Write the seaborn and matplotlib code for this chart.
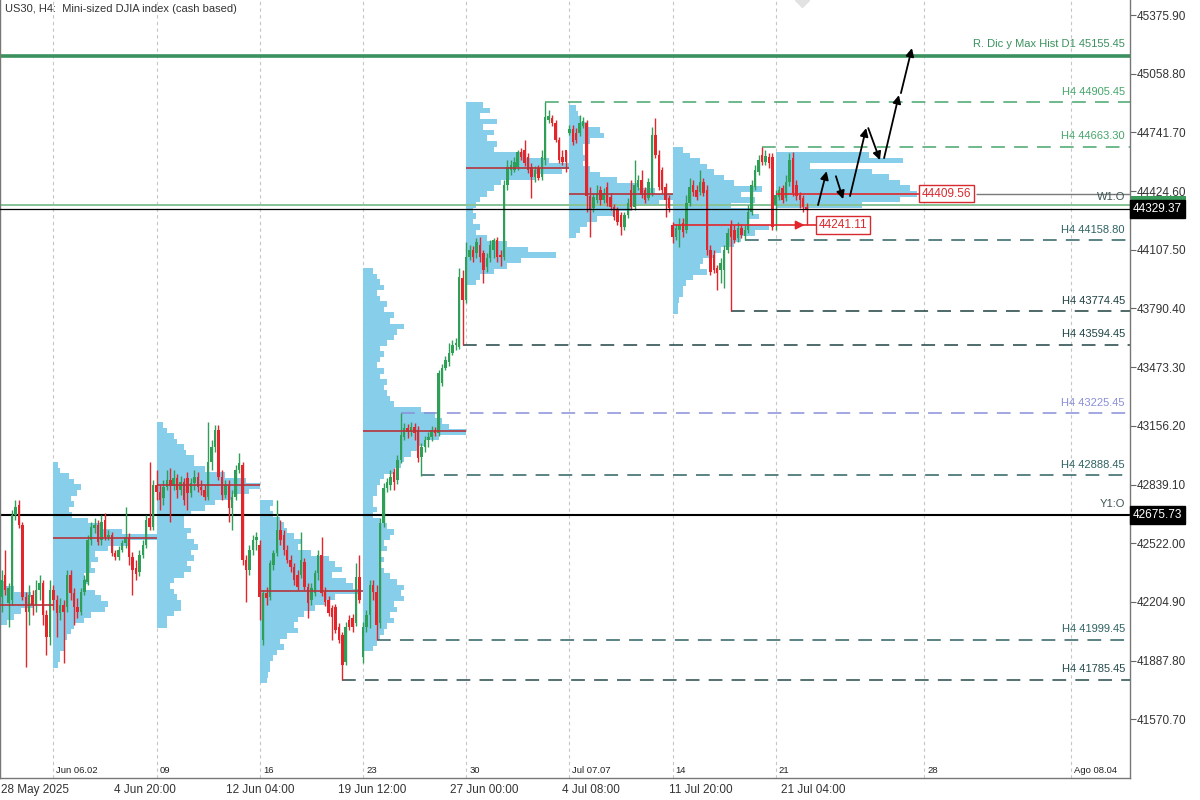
import matplotlib
matplotlib.use("Agg")
import matplotlib.pyplot as plt
import matplotlib.transforms as mtransforms
from matplotlib.patches import Rectangle
import numpy as np
import seaborn as sns

# ---- US30 H4 candles, one value per bar (28 May 2025 -> 22 Jul 2025) ----
opens = [
    42232, 42351, 42200, 42216, 42675, 42729, 42621, 42232, 42151, 42243, 42189, 42270, 42308, 42135, 42016,
    42270, 42216, 42146, 42189, 42178, 42351, 42254, 42178, 42151, 42259, 42313, 42540, 42605, 42621, 42540,
    42648, 42556, 42567, 42470, 42448, 42486, 42524, 42556, 42448, 42389, 42367, 42459, 42513, 42659, 42610,
    42837, 42799, 42767, 42826, 42864, 42832, 42875, 42810, 42853, 42875, 42794, 42848, 42880, 42826, 42810,
    42772, 42961, 43042, 43134, 42880, 42783, 42837, 42713, 42772, 42918, 42945, 42432, 42378, 42486, 42540,
    42513, 42000, 42254, 42232, 42405, 42470, 42594, 42567, 42486, 42432, 42394, 42351, 42351, 42421, 42286,
    42216, 42254, 42362, 42459, 42259, 42216, 42173, 42178, 42070, 42027, 41881, 42108, 42119, 42092, 42340,
    41908, 42070, 42135, 42297, 42259, 42092, 42632, 42821, 42837, 42907, 42864, 42972, 43096, 43145, 43123,
    43150, 43134, 42988, 43042, 43080, 43096, 43134, 43118, 43388, 43469, 43501, 43550, 43593, 43582, 43955,
    43836, 44068, 44106, 44090, 44133, 44090, 44014, 44063, 44106, 44160, 44079, 44068, 44457, 44538, 44538,
    44554, 44635, 44646, 44608, 44554, 44500, 44549, 44500, 44592, 44808, 44819, 44792, 44700, 44608, 44646,
    44738, 44759, 44738, 44738, 44776, 44792, 44400, 44333, 44376, 44430, 44376, 44446, 44392, 44338, 44322,
    44295, 44230, 44295, 44430, 44338, 44446, 44484, 44430, 44387, 44414, 44727, 44619, 44538, 44446, 44387,
    44241, 44176, 44214, 44252, 44214, 44360, 44457, 44430, 44419, 44473, 44430, 44106, 44079, 44009, 43998,
    43998, 44106, 44241, 44214, 44171, 44225, 44182, 44214, 44311, 44446, 44527, 44619, 44581, 44608, 44608,
    44350, 44392, 44441, 44387, 44473, 44603, 44457, 44403, 44387, 44338,
]
highs = [
    42378, 42486, 42308, 42702, 42756, 42756, 42637, 42259, 42297, 42270, 42324, 42351, 42324, 42162, 42324,
    42297, 42243, 42227, 42216, 42378, 42378, 42281, 42227, 42281, 42351, 42567, 42637, 42659, 42648, 42675,
    42686, 42594, 42583, 42486, 42508, 42540, 42718, 42578, 42475, 42432, 42486, 42540, 42675, 42961, 42864,
    42918, 42837, 42864, 42918, 42929, 42918, 42896, 42886, 42875, 42907, 42875, 42918, 42907, 42864, 42837,
    43177, 43080, 43161, 43161, 42918, 42864, 42864, 42810, 42945, 43010, 42961, 42459, 42513, 42567, 42583,
    42540, 42270, 42286, 42432, 42486, 42756, 42648, 42594, 42513, 42459, 42416, 42378, 42583, 42443, 42308,
    42308, 42378, 42486, 42556, 42286, 42238, 42189, 42194, 42092, 42043, 42097, 42135, 42140, 42416, 42459,
    42097, 42162, 42324, 42324, 42297, 42659, 42848, 42875, 42918, 42929, 42999, 43226, 43172, 43166, 43177,
    43172, 43156, 43064, 43102, 43123, 43156, 43150, 43458, 43490, 43534, 43604, 43620, 43631, 44009, 43998,
    44149, 44133, 44128, 44171, 44176, 44106, 44090, 44160, 44171, 44176, 44106, 44484, 44592, 44592, 44608,
    44646, 44657, 44700, 44630, 44576, 44560, 44565, 44646, 44905, 44862, 44835, 44808, 44716, 44646, 44640,
    44781, 44781, 44765, 44835, 44824, 44808, 44446, 44414, 44457, 44452, 44441, 44473, 44414, 44354, 44338,
    44311, 44311, 44387, 44484, 44592, 44511, 44538, 44446, 44495, 44770, 44819, 44646, 44554, 44468, 44403,
    44257, 44246, 44279, 44279, 44403, 44495, 44484, 44457, 44538, 44495, 44457, 44133, 44106, 44025, 44063,
    44133, 44225, 44268, 44241, 44257, 44246, 44241, 44349, 44484, 44565, 44619, 44662, 44646, 44630, 44630,
    44430, 44452, 44457, 44511, 44630, 44635, 44484, 44419, 44403, 44360,
]
lows = [
    42151, 42243, 42070, 42189, 42648, 42605, 42216, 41854, 42081, 42135, 42151, 42216, 42081, 41919, 41973,
    42162, 42016, 42108, 41876, 42151, 42216, 42081, 42119, 42135, 42243, 42297, 42513, 42578, 42513, 42513,
    42540, 42540, 42454, 42432, 42432, 42475, 42497, 42405, 42243, 42324, 42346, 42443, 42497, 42594, 42594,
    42756, 42702, 42729, 42810, 42637, 42810, 42767, 42783, 42729, 42702, 42772, 42810, 42799, 42783, 42756,
    42756, 42918, 43015, 42864, 42756, 42767, 42637, 42594, 42756, 42902, 42405, 42205, 42351, 42459, 42486,
    42108, 41973, 42189, 42216, 42378, 42454, 42513, 42459, 42416, 42367, 42297, 42270, 42335, 42270, 42119,
    42189, 42238, 42324, 42238, 42184, 42130, 42000, 42038, 41984, 41785, 41865, 42054, 42043, 42076, 42200,
    41876, 42043, 42065, 42216, 42000, 42065, 42610, 42799, 42810, 42810, 42842, 42956, 43080, 43091, 43102,
    43080, 42961, 42886, 43015, 43042, 43075, 43102, 43102, 43372, 43458, 43480, 43539, 43566, 43571, 43593,
    43820, 44052, 44041, 44063, 44041, 43928, 43987, 44041, 44063, 44041, 44020, 44052, 44430, 44511, 44527,
    44538, 44592, 44560, 44522, 44387, 44473, 44484, 44484, 44565, 44792, 44776, 44689, 44576, 44565, 44527,
    44727, 44673, 44684, 44722, 44765, 44311, 44176, 44311, 44360, 44349, 44360, 44344, 44322, 44268, 44241,
    44187, 44214, 44279, 44322, 44322, 44430, 44387, 44360, 44376, 44398, 44603, 44430, 44414, 44284, 44311,
    44144, 44160, 44122, 44176, 44198, 44344, 44398, 44376, 44403, 44398, 44079, 43971, 43982, 43890, 43928,
    43901, 44090, 43777, 44144, 44149, 44171, 44160, 44198, 44295, 44430, 44511, 44565, 44565, 44549, 44214,
    44214, 44376, 44360, 44371, 44452, 44398, 44376, 44333, 44311, 44322,
]
closes = [
    42324, 42270, 42281, 42675, 42718, 42621, 42232, 42151, 42243, 42189, 42270, 42308, 42135, 42016, 42270,
    42216, 42146, 42189, 42151, 42351, 42254, 42178, 42151, 42259, 42324, 42540, 42610, 42621, 42529, 42637,
    42556, 42567, 42470, 42448, 42486, 42524, 42556, 42448, 42378, 42356, 42459, 42513, 42648, 42610, 42837,
    42799, 42756, 42826, 42864, 42832, 42875, 42810, 42853, 42756, 42794, 42848, 42880, 42826, 42810, 42772,
    42961, 43042, 43134, 42880, 42783, 42837, 42713, 42772, 42918, 42956, 42432, 42378, 42486, 42540, 42556,
    42232, 42254, 42227, 42416, 42470, 42594, 42540, 42486, 42432, 42394, 42324, 42286, 42432, 42286, 42200,
    42281, 42362, 42459, 42254, 42205, 42146, 42124, 42054, 42000, 41865, 42070, 42070, 42070, 42340, 42216,
    42070, 42135, 42297, 42259, 42081, 42632, 42821, 42853, 42880, 42853, 42972, 43107, 43145, 43123, 43150,
    43118, 42983, 43042, 43080, 43096, 43134, 43118, 43442, 43469, 43512, 43550, 43593, 43604, 43960, 43836,
    44068, 44106, 44068, 44149, 44068, 43998, 44063, 44133, 44160, 44068, 44068, 44457, 44554, 44565, 44581,
    44635, 44608, 44576, 44538, 44500, 44538, 44495, 44608, 44824, 44830, 44792, 44700, 44592, 44581, 44581,
    44759, 44689, 44700, 44792, 44803, 44400, 44322, 44392, 44414, 44376, 44414, 44360, 44338, 44284, 44257,
    44230, 44295, 44360, 44338, 44457, 44484, 44403, 44376, 44473, 44727, 44619, 44446, 44430, 44376, 44333,
    44176, 44225, 44241, 44203, 44360, 44446, 44419, 44392, 44473, 44414, 44106, 43987, 43998, 43982, 44036,
    44106, 44198, 44176, 44160, 44225, 44187, 44214, 44311, 44457, 44538, 44592, 44581, 44614, 44576, 44230,
    44403, 44430, 44376, 44473, 44592, 44414, 44398, 44376, 44338, 44329.37,
]

# ---- weekly volume profiles (width in bars, one row = 30 points, listed top -> bottom) ----
vp_may26 = [1.5, 4, 9, 8, 10, 6, 4, 2]
vp_jun02 = [1.5, 2, 4.5, 6, 8, 7, 5, 6, 4.5, 5.5, 10, 14, 20, 30, 22, 16, 12, 13, 11, 12,
            9, 10, 9, 12, 14, 16, 15, 11, 9, 6, 5, 4, 3, 3, 2, 2, 1.5]
vp_jun09 = [2, 3, 5, 6, 8, 8.5, 11, 11, 14, 20, 26, 30, 27, 22, 17, 14, 10, 8, 8, 10,
            9, 11, 12, 10, 11, 9, 10, 8, 5, 4, 5, 6, 7, 7, 5, 3, 3]
vp_jun16 = [4, 3, 4, 6, 7, 8, 10, 12, 11, 15, 20, 22, 24, 21, 25, 27, 29.5, 22, 19, 16,
            13, 11, 10, 11, 8, 6, 7, 5, 4, 3, 3, 2.5, 2]
vp_jun23 = [3, 4, 5, 6, 4, 5, 7, 6, 9, 8, 12, 10, 9, 7, 5, 6, 5, 4, 6, 5,
            7, 6, 7, 8, 9, 17, 21, 23, 25, 30, 22, 18, 16, 14, 12, 11, 9, 6, 5, 4,
            4, 3, 3, 4, 3, 5, 7, 9, 8, 6, 7, 5, 6, 5, 6, 8, 10, 12, 11, 12,
            9, 10, 8, 9, 7, 6, 5, 4, 3]
vp_jun30 = [5, 7, 4, 9, 5, 8, 6, 9, 8, 17, 24, 30, 28, 20, 10, 8, 6, 4, 3, 2,
            3, 2, 4, 3, 6, 12, 18, 26, 16, 12, 8, 4, 3]
vp_jul07 = [2, 2.5, 3, 5, 9, 10, 6, 4, 4, 5, 4, 6, 9, 14, 20, 25, 30, 26, 18, 13, 8, 5, 3, 2]
vp_jul14 = [3, 5, 8, 10, 12, 15, 18, 26, 20, 24, 17, 23, 25, 22, 28, 24, 20, 18, 14, 12,
            9, 8, 10, 6, 4, 3, 3, 2, 1.5, 1.5]
vp_jul21 = [27, 37, 10, 28, 33, 36, 39, 41, 36, 25]
vp_widths = [vp_may26, vp_jun02, vp_jun09, vp_jun16, vp_jun23, vp_jun30, vp_jul07, vp_jul14, vp_jul21]
vp_starts = [-0.5, 15, 45, 75, 105, 135, 165, 195, 225]
vp_tops = [42320, 42960, 43177, 42756, 44009, 44905, 44889, 44662, 44635]
VP_ROW = 30

# point of control of each weekly profile
poc_prices = [42189, 42551, 42837, 42265, 43129, 44549, 44408]
poc_to = [15, 45, 75, 105, 135, 165, 195]
poc_last_week = 44241.11
poc_this_week = 44409.56

# horizontal levels
level_prices = [45155.45, 44905.45, 44663.30, 44158.80, 43774.45, 43594.45, 43225.45, 42888.45, 41999.45, 41785.45]
level_from = [-0.5, 158, 221, 216, 212, 134, 116, 122, 109, 99]
level_labels = ["R. Dic y Max Hist D1 45155.45"] + ["H4 %.2f" % p for p in level_prices[1:]]
level_colors = ["#3a915d", "#47a56b", "#47a56b", "#2f6262", "#1f4040", "#1f4444",
                "#8a8fd8", "#2f6262", "#2f6262", "#264a4a"]
year_open = 42675.73
week_open = 44352
last_price = 44329.37

# axis text
price_ticks = [45375.90, 45058.80, 44741.70, 44424.60, 44107.50, 43790.40, 43473.30,
               43156.20, 42839.10, 42522.00, 42204.90, 41887.80, 41570.70]
week_seps = [15, 45, 75, 105, 135, 165, 195, 225, 268.2, 310.8]
week_names = ["Jun 06.02", "09", "16", "23", "30", "Jul 07.07", "14", "21", "28", "Ago 08.04"]
time_ticks = [-0.5, 32.4, 64.9, 97.5, 130, 162.6, 193.7, 226.3]
time_names = ["28 May 2025", "4 Jun 20:00", "12 Jun 04:00", "19 Jun 12:00", "27 Jun 00:00",
              "4 Jul 08:00", "11 Jul 20:00", "21 Jul 04:00"]

# projected path (bar, price) pairs
path_arrows = [(237.3, 44349, 239.8, 44532), (242.5, 44505, 244.6, 44381),
               (246.6, 44398, 251.3, 44765), (251.9, 44765, 255.3, 44592),
               (256.5, 44603, 260.8, 44943), (261.4, 44954, 264.6, 45197)]

sns.set_style("white")
plt.rcParams["font.family"] = ["Liberation Sans", "DejaVu Sans"]

GREEN = "#2f9f58"
RED = "#e2262c"
POC_RED = "#b5343a"
BLUE = "#87ceeb"
X_MAX = 328

fig = plt.figure(figsize=(12, 8), dpi=100)
ax = fig.add_axes([0.0, 0.0275, 0.9417, 0.9725])
ax.set_xlim(-0.5, X_MAX)
ax.set_ylim(41254, 45457)

for s in week_seps:
    ax.axvline(s, color="#c6c6c6", lw=0.8, ls=(0, (3, 3)), zorder=0)

# volume profiles
for start, top, widths in zip(vp_starts, vp_tops, vp_widths):
    centers = top - VP_ROW * (np.arange(len(widths)) + 0.5)
    ax.barh(centers, widths, height=VP_ROW, left=start, color=BLUE, lw=0, zorder=1)

# full-width reference lines
ax.axhline(level_prices[0], color=level_colors[0], lw=2.6, zorder=2)
ax.axhline(week_open, color="#86c496", lw=1.4, zorder=2)
ax.axhline(year_open, color="black", lw=1.5, zorder=2)
ax.axhline(last_price, color="black", lw=0.9, zorder=6)

for p, a, col in zip(level_prices[1:], level_from[1:], level_colors[1:]):
    ax.hlines(p, a, X_MAX, colors=col, lw=1.1, linestyles=(0, (9, 6)), zorder=2)

# candles
o = np.array(opens, float)
h = np.array(highs, float)
l = np.array(lows, float)
c = np.array(closes, float)
idx = np.arange(len(c))
col = np.where(c >= o, GREEN, RED)
ax.vlines(idx, l, h, colors=col, lw=1.0, zorder=3)
ax.bar(idx, np.maximum(np.abs(c - o), 8), bottom=np.minimum(o, c), width=0.72,
       color=col, lw=0, zorder=4)

# weekly POC lines
for p, a, b in zip(poc_prices, vp_starts, poc_to):
    ax.hlines(p, a, b, colors=POC_RED, lw=1.2, zorder=5)

ax.hlines(poc_last_week, 195, 237.3, colors=RED, lw=1.2, zorder=5)
ax.annotate("", xy=(233.4, poc_last_week), xytext=(231, poc_last_week),
            arrowprops=dict(arrowstyle="-|>", color=RED, lw=1.2, mutation_scale=13,
                            shrinkA=0, shrinkB=0), zorder=6)
ax.vlines(234.2, poc_last_week, 44345, colors=RED, lw=1.0, zorder=5)
ax.hlines(poc_this_week, 225, 267.2, colors=RED, lw=1.2, zorder=5)
ax.hlines(poc_this_week, 283.3, X_MAX, colors="#7a7a7a", lw=1.0, zorder=5)
box = dict(boxstyle="square,pad=0.22", fc="white", ec="#d8292e", lw=1.0)
ax.text(237.5, poc_last_week, "%.2f" % poc_last_week, color="#d8292e", fontsize=8.5,
        ha="left", va="center", bbox=box, zorder=7)
ax.text(267.4, poc_this_week, "%.2f" % poc_this_week, color="#d8292e", fontsize=8.5,
        ha="left", va="center", bbox=box, zorder=7)

# projected path arrows
for x0, p0, x1, p1 in path_arrows:
    ax.annotate("", xy=(x1, p1), xytext=(x0, p0),
                arrowprops=dict(arrowstyle="-|>", color="black", lw=1.3, mutation_scale=12,
                                shrinkA=0, shrinkB=0), zorder=8)

# level labels
for p, txt, colr in zip(level_prices, level_labels, level_colors):
    ax.annotate(txt, (326.5, p), xytext=(0, 4 if p != level_prices[0] else 5),
                textcoords="offset points", ha="right", va="bottom", fontsize=8, color=colr, zorder=7)
ax.annotate("W1:O", (326.5, week_open), xytext=(0, 2), textcoords="offset points",
            ha="right", va="bottom", fontsize=8, color="#3d5454", zorder=7)
ax.annotate("Y1:O", (326.5, year_open), xytext=(0, 4), textcoords="offset points",
            ha="right", va="bottom", fontsize=8, color="#3d5454", zorder=7)

# chart shift marker
ax.plot(232.5, 45457, marker="D", ms=7, color="#e2e2e2", zorder=0)

# right price axis
ax.yaxis.tick_right()
ax.set_yticks(price_ticks)
ax.set_yticklabels(["%.2f" % v for v in price_ticks], fontsize=8.5, color="#333333")
ax.tick_params(axis="y", length=4, width=0.8, color="#666666", pad=1, direction="out")
ytrans = mtransforms.blended_transform_factory(ax.transAxes, ax.transData)
# W1:O price tag peeking out behind the last-price tag
ax.add_patch(Rectangle((1.001, week_open - 45), 0.0485, 90, transform=ytrans,
                       facecolor="#3a9a5a", edgecolor="none", clip_on=False, zorder=9))
for p in (last_price, year_open):
    ax.text(1.0025, p, "%.2f" % p, transform=ytrans, fontsize=8.5, color="white",
            va="center", ha="left", bbox=dict(boxstyle="square,pad=0.25", fc="black", ec="black"),
            clip_on=False, zorder=10)

# time axis
ax.set_xticks(time_ticks[1:])
ax.set_xticklabels([""] * (len(time_ticks) - 1))
ax.tick_params(axis="x", length=4, width=0.8, color="#666666", direction="out")
xtrans = ax.get_xaxis_transform()
for t, name in zip(time_ticks, time_names):
    ax.text(t + 0.2, -0.0155, name, transform=xtrans, fontsize=8.5, color="#333333",
            ha="left", va="center", clip_on=False)
for s, name in zip(week_seps, week_names):
    ax.text(s + 0.9, 0.009, name, transform=xtrans, fontsize=6.8, color="#222222",
            ha="left", va="center", family=["Liberation Sans Narrow", "Liberation Sans", "DejaVu Sans"])

for side in ("left", "right", "bottom"):
    ax.spines[side].set_color("#777777")
    ax.spines[side].set_linewidth(1.0)
ax.spines["top"].set_visible(False)
ax.grid(False)

fig.text(5 / 1200, 1 - 9 / 800, "US30, H4:  Mini-sized DJIA index (cash based)", fontsize=8,
         color="#333333", ha="left", va="center")

fig.savefig("out.png", dpi=100, facecolor="white")
